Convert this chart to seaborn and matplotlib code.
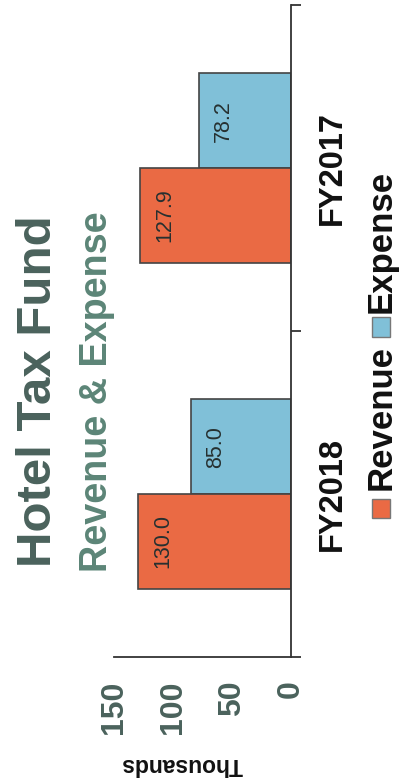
import matplotlib
matplotlib.use("Agg")
import matplotlib.pyplot as plt
import matplotlib.patches as mpatches
import seaborn as sns
import pandas as pd

# ---- data ----
years = ["FY2017", "FY2018"]
revenue = [127.9, 130.0]
expense = [78.2, 85.0]
series = ["Expense", "Revenue"]
value_ticks = [0, 50, 100, 150]
title = "Hotel Tax Fund"
subtitle = "Revenue & Expense"
unit_label = "Thousands"

rows = []
for y, r, e in zip(years, revenue, expense):
    rows.append({"Year": y, "Series": "Revenue", "Value": r})
    rows.append({"Year": y, "Series": "Expense", "Value": e})
df = pd.DataFrame(rows)

sns.set_style("white")
plt.rcParams["font.family"] = ["Liberation Sans", "DejaVu Sans"]

REV_C = "#ea6a44"
EXP_C = "#80c0d8"
TITLE_C = "#4a625c"
SUB_C = "#5c8577"

W, H = 402, 784
fig = plt.figure(figsize=(W / 100, H / 100), dpi=100)
ax = fig.add_axes([114 / W, 1 - 657 / H, 177 / W, 652 / H])

sns.barplot(data=df, y="Year", x="Value", hue="Series", order=years,
            hue_order=series, palette={"Revenue": REV_C, "Expense": EXP_C},
            orient="h", width=0.58, gap=0, edgecolor="#444444", linewidth=1.2,
            saturation=1, legend=False, ax=ax)

ax.set_xlim(150, 0)
ax.set_ylim(1.5, -0.5)
ax.set_xticks(value_ticks)
ax.set_xticklabels([str(v) for v in value_ticks])
ax.set_yticks([-0.5, 0.5, 1.5])
ax.set_yticklabels([])
ax.yaxis.tick_right()
ax.set_xlabel("")
ax.set_ylabel("")
for s in ["top", "left"]:
    ax.spines[s].set_visible(False)
for s in ["right", "bottom"]:
    ax.spines[s].set_color("#333333")
    ax.spines[s].set_linewidth(1.3)
ax.tick_params(axis="x", direction="out", length=8, width=1.3, color="#333333",
               pad=9, labelrotation=90, labelsize=23, labelcolor=TITLE_C)
ax.tick_params(axis="y", direction="out", length=7.5, width=1.3, color="#333333")
for lab in ax.get_xticklabels():
    lab.set_fontweight("bold")

# value labels inside bars
for cont in ax.containers:
    for bar in cont:
        v = bar.get_width()
        yc = bar.get_y() + bar.get_height() / 2
        ax.annotate(f"{v:.1f}", (v, yc), xytext=(18, 0), textcoords="offset points",
                    rotation=90, ha="center", va="center", fontsize=15.5,
                    color="#263030")

# category labels
trans = ax.get_yaxis_transform()
for i, y in enumerate(years):
    ax.text(1.2316, i, y, transform=trans, rotation=90, ha="center", va="center",
            fontsize=23.5, fontweight="bold", color="#111111")

# titles
fig.text(39 / W, 1 - 391 / H, title, rotation=90, ha="center", va="center",
         fontsize=35.5, fontweight="bold", color=TITLE_C)
fig.text(97 / W, 1 - 392 / H, subtitle, rotation=90, ha="center", va="center",
         fontsize=27.2, fontweight="bold", color=SUB_C)

# unit label (upside down)
fig.text(182 / W, 1 - 764 / H, unit_label, rotation=180, ha="center", va="center",
         fontsize=16.5, fontweight="bold", color="#111111")

# manual legend (rotated)
leg_items = [("Revenue", REV_C, 508, 417), ("Expense", EXP_C, 327, 241)]
for name, col, sq_y, tx_y in leg_items:
    fig.patches.append(mpatches.Rectangle((372 / W, 1 - (sq_y + 9.5) / H), 18 / W, 19 / H,
                                          transform=fig.transFigure, facecolor=col,
                                          edgecolor="#777777", linewidth=1))
    fig.text(381 / W, 1 - tx_y / H, name, rotation=90, ha="center", va="center",
             fontsize=25, fontweight="bold", color="#111111")

fig.savefig("out.png", dpi=100)
